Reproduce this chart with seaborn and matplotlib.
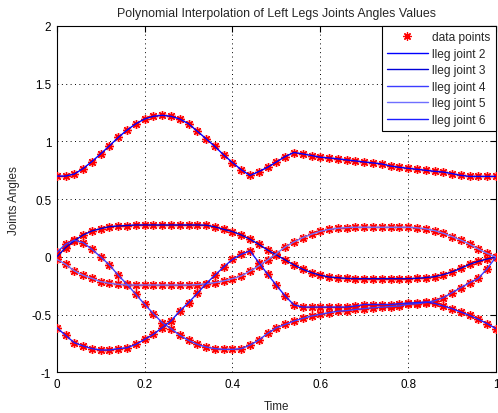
import numpy as np
import pandas as pd
import matplotlib
matplotlib.use("Agg")
import matplotlib.pyplot as plt
import seaborn as sns
from matplotlib.lines import Line2D

time = [0.00, 0.02, 0.04, 0.06, 0.08, 0.10, 0.12, 0.14, 0.16, 0.18,
        0.20, 0.22, 0.24, 0.26, 0.28, 0.30, 0.32, 0.34, 0.36, 0.38,
        0.40, 0.42, 0.44, 0.46, 0.48, 0.50, 0.52, 0.54, 0.56, 0.58,
        0.60, 0.62, 0.64, 0.66, 0.68, 0.70, 0.72, 0.74, 0.76, 0.78,
        0.80, 0.82, 0.84, 0.86, 0.88, 0.90, 0.92, 0.94, 0.96, 0.98, 1.00]

joint2 = [0.700, 0.700, 0.718, 0.765, 0.826, 0.892, 0.962, 1.035, 1.098, 1.153,
          1.194, 1.218, 1.226, 1.218, 1.194, 1.153, 1.088, 1.023, 0.956, 0.883,
          0.817, 0.755, 0.705, 0.739, 0.776, 0.822, 0.869, 0.904, 0.892, 0.878,
          0.863, 0.857, 0.849, 0.840, 0.831, 0.822, 0.814, 0.805, 0.787, 0.776,
          0.767, 0.759, 0.750, 0.741, 0.735, 0.721, 0.706, 0.697, 0.697, 0.697, 0.697]

joint3 = [0.000, 0.080, 0.140, 0.190, 0.225, 0.245, 0.262, 0.268, 0.272, 0.277,
          0.277, 0.277, 0.277, 0.277, 0.277, 0.277, 0.277, 0.275, 0.260, 0.239,
          0.219, 0.190, 0.153, 0.109, 0.060, 0.017, -0.026, -0.070, -0.107, -0.136,
          -0.159, -0.174, -0.180, -0.186, -0.188, -0.188, -0.188, -0.188, -0.188, -0.188,
          -0.188, -0.185, -0.179, -0.171, -0.153, -0.130, -0.098, -0.064, -0.038, -0.018, 0.000]

joint4 = [0.040, 0.110, 0.145, 0.124, 0.066, 0.000, -0.070, -0.159, -0.237, -0.324,
          -0.410, -0.491, -0.569, -0.620, -0.679, -0.722, -0.757, -0.780, -0.794, -0.800,
          -0.800, -0.794, -0.763, -0.720, -0.662, -0.613, -0.584, -0.555, -0.532, -0.512,
          -0.497, -0.483, -0.470, -0.465, -0.455, -0.447, -0.440, -0.435, -0.430, -0.425,
          -0.410, -0.405, -0.395, -0.380, -0.353, -0.309, -0.266, -0.223, -0.185, -0.101, 0.000]

joint5 = [-0.020, -0.064, -0.121, -0.159, -0.185, -0.214, -0.228, -0.237, -0.243, -0.243,
          -0.243, -0.243, -0.243, -0.243, -0.243, -0.243, -0.240, -0.233, -0.223, -0.208,
          -0.188, -0.165, -0.122, -0.078, -0.026, 0.029, 0.086, 0.130, 0.167, 0.196,
          0.222, 0.238, 0.248, 0.254, 0.257, 0.257, 0.257, 0.257, 0.257, 0.257,
          0.257, 0.252, 0.243, 0.228, 0.205, 0.176, 0.146, 0.110, 0.068, 0.030, 0.000]

joint6 = [-0.612, -0.679, -0.743, -0.771, -0.794, -0.806, -0.806, -0.794, -0.786, -0.757,
          -0.714, -0.670, -0.612, -0.555, -0.468, -0.396, -0.315, -0.231, -0.159, -0.087,
          -0.021, 0.023, 0.052, -0.049, -0.150, -0.246, -0.338, -0.416, -0.434, -0.434,
          -0.434, -0.434, -0.434, -0.434, -0.425, -0.412, -0.412, -0.412, -0.412, -0.405,
          -0.400, -0.395, -0.390, -0.402, -0.425, -0.448, -0.477, -0.506, -0.540, -0.578, -0.621]

joint_names = ["lleg joint 2", "lleg joint 3", "lleg joint 4", "lleg joint 5", "lleg joint 6"]
joint_values = [joint2, joint3, joint4, joint5, joint6]
line_colors = ["#0000ff", "#0000d8", "#3c3cff", "#6f6fff", "#1c1cff"]

x_ticks = [0, 0.2, 0.4, 0.6, 0.8, 1]
x_ticklabels = ["0", "0.2", "0.4", "0.6", "0.8", "1"]
y_ticks = [-1, -0.5, 0, 0.5, 1, 1.5, 2]
y_ticklabels = ["-1", "-0.5", "0", "0.5", "1", "1.5", "2"]

df = pd.concat([pd.DataFrame({"Time": time, "Angle": v, "Joint": n})
                for n, v in zip(joint_names, joint_values)], ignore_index=True)

sns.set_theme(style="white")
plt.rcParams["font.family"] = ["Liberation Sans", "DejaVu Sans"]
FS = 8.4

fig = plt.figure(figsize=(4.98, 4.14), dpi=100)
ax = fig.add_axes([0.114, 0.098, 0.882, 0.837])

asterisk = (8, 2, 0)
# soft halo under points
sns.scatterplot(data=df, x="Time", y="Angle", color="#ff7070", alpha=0.45, s=42,
                marker="o", linewidth=0, legend=False, ax=ax, zorder=3)
sns.scatterplot(data=df, x="Time", y="Angle", color="red", s=32, marker=asterisk,
                linewidth=0.9, edgecolor="red", legend=False, ax=ax, zorder=4)
sns.lineplot(data=df, x="Time", y="Angle", hue="Joint", palette=line_colors,
             linewidth=1.0, legend=False, ax=ax, sort=False, estimator=None, zorder=5)

ax.set_xlim(0, 1)
ax.set_ylim(-1, 2)
ax.set_xticks(x_ticks)
ax.set_xticklabels(x_ticklabels)
ax.set_yticks(y_ticks)
ax.set_yticklabels(y_ticklabels)
ax.tick_params(direction="in", length=4, width=0.8, top=True, right=True,
               labelsize=FS, colors="black", pad=4)
ax.grid(True, color="black", linestyle=(0, (1, 3.5)), linewidth=0.7)
for s in ax.spines.values():
    s.set_visible(True)
    s.set_color("black")
    s.set_linewidth(0.8)

ax.set_title("Polynomial Interpolation of Left Legs Joints Angles Values", fontsize=8.9, pad=7)
ax.set_xlabel("Time", fontsize=FS, labelpad=7)
ax.set_ylabel("Joints Angles", fontsize=FS, labelpad=8)

handles = [Line2D([], [], marker=asterisk, color="red", linestyle="none",
                  markersize=6, markeredgewidth=0.9)]
handles += [Line2D([], [], color=c, linewidth=1.0) for c in line_colors]
labels = ["data points"] + joint_names
leg = ax.legend(handles, labels, loc="upper right", fontsize=8.6, frameon=True,
                fancybox=False, edgecolor="black", framealpha=1, borderaxespad=0,
                handlelength=3.4, handletextpad=0.4, labelspacing=0.38,
                borderpad=0.45)
leg.get_frame().set_linewidth(0.8)
leg.set_zorder(10)

fig.savefig("out.png", dpi=100)
